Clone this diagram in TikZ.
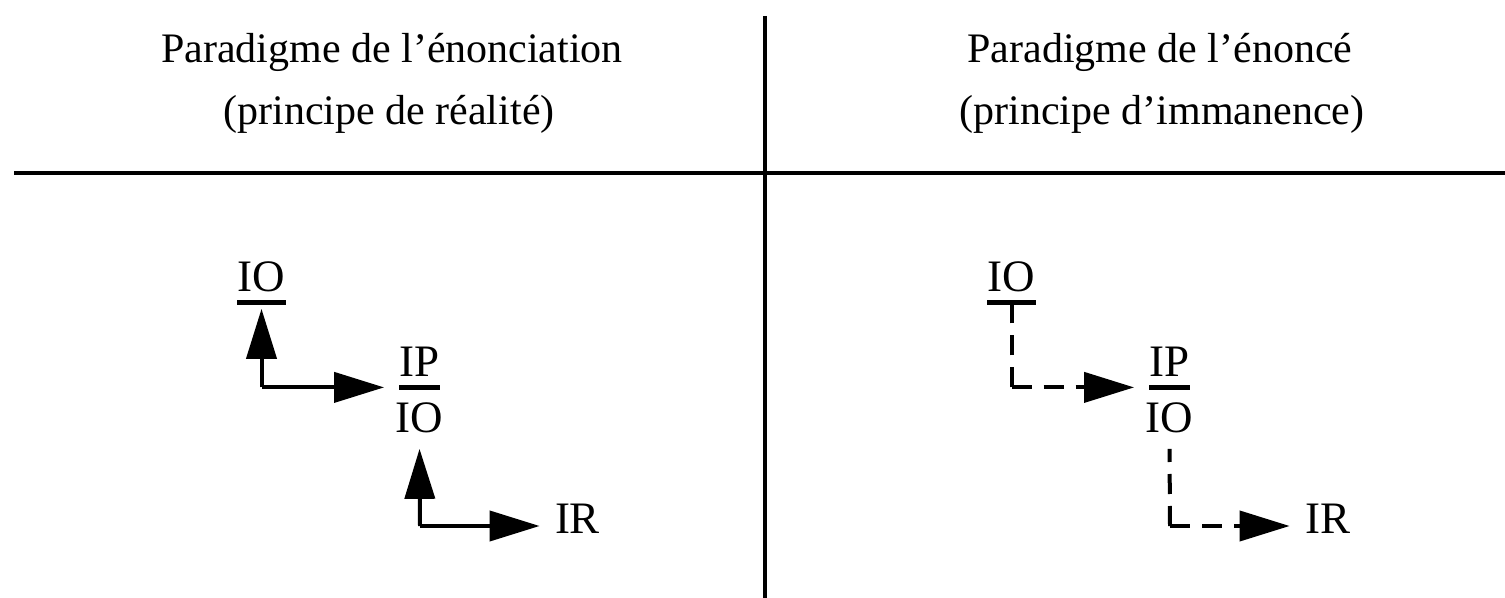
\documentclass[tikz,border=0pt]{standalone}
\usepackage{fontspec}
\setmainfont{Liberation Serif}
\usepackage{tikz}
\usetikzlibrary{arrows.meta}
\newcommand{\headfont}{\fontsize{21}{25}\selectfont}
\newcommand{\labfont}{\fontsize{22.5}{27}\selectfont}

\begin{document}
\begin{tikzpicture}[x=0.5pt,y=-0.5pt,>={Triangle[length=25pt,width=15pt]},
  head/.style={font=\headfont,inner sep=0pt,anchor=base},
  lab/.style={font=\labfont,inner xsep=0pt,inner ysep=5pt,anchor=base},
  bar/.style={line width=2.4pt},
  rule/.style={line width=2.4pt},
  link/.style={->,line width=2pt},
  dlink/.style={line width=2pt,dash pattern=on 10pt off 6pt}]
\useasboundingbox (0,0) rectangle (1505,598);
% table rules
\draw[rule] (14,173) -- (1505,173);
\draw[rule] (765,16) -- (765,598);
% column heads
\node[head] (headL) at (392,63) {Paradigme de l’énonciation};
\node[head] (subL) at (389,125) {(principe de réalité)};
\node[head] (headR) at (1160,63) {Paradigme de l’énoncé};
\node[head] (subR) at (1162,125) {(principe d’immanence)};
% (left) labels
\node[lab] (ioL) at (261.5,292) {IO};
\node[lab] (ipL) at (419.5,377) {IP};
\node[lab] (ioL2) at (419.5,433) {IO};
\node[lab] (irL) at (577.5,533) {IR};
\draw[bar] (ioL.south west) -- (ioL.south east);
\draw[bar] (ipL.south west) -- (ipL.south east);
% (left) solid links
\coordinate (cL1) at (ioL |- ipL.south);
\coordinate (cL2) at (420,526);
\draw[link,shorten >=3pt] (cL1) -- (ioL.south);
\draw[link,shorten >=7.5pt] (cL1) -- (ipL.south west);
\draw[link,shorten >=2.5pt] (cL2) -- (ioL2.south);
\draw[link,shorten >=7.5pt] (cL2) -- (cL2 -| irL.west);
% (right) labels
\node[lab] (ioR) at (1011.5,292) {IO};
\node[lab] (ipR) at (1169.5,377) {IP};
\node[lab] (ioR2) at (1169.5,433) {IO};
\node[lab] (irR) at (1327.5,533) {IR};
\draw[bar] (ioR.south west) -- (ioR.south east);
\draw[bar] (ipR.south west) -- (ipR.south east);
% (right) dashed links
\coordinate (cR1) at (ioR |- ipR.south);
\coordinate (cR2) at (1170,526);
\draw[dlink] (cR1) -- (ioR.south);
\draw[dlink,->,shorten >=7.5pt] (cR1) -- (ipR.south west);
\draw[dlink,shorten >=2.5pt] (cR2) -- (ioR2.south);
\draw[dlink,->,shorten >=7.5pt] (cR2) -- (cR2 -| irR.west);
\end{tikzpicture}
\end{document}
